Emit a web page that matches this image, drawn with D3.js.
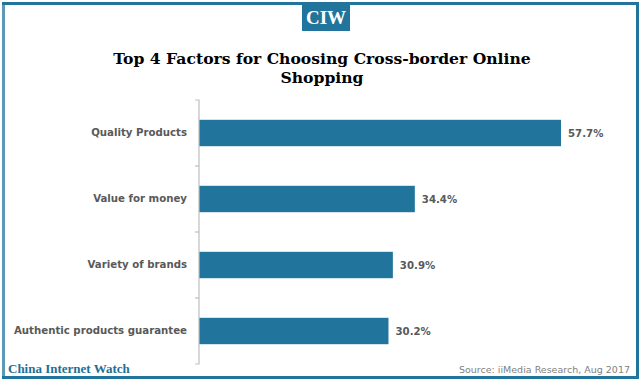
<!DOCTYPE html>
<html><head><meta charset="utf-8">
<script src="https://cdn.jsdelivr.net/npm/d3@7"></script>
<style>html,body{margin:0;padding:0;background:#fff;}svg{display:block;}</style>
</head><body>
<svg id="c" width="640" height="383"></svg>
<script>
const categories = ["Quality Products", "Value for money", "Variety of brands", "Authentic products guarantee"];
const values = [57.7, 34.4, 30.9, 30.2];
const valueLabels = ["57.7%", "34.4%", "30.9%", "30.2%"];
const title = ["Top 4 Factors for Choosing Cross-border Online", "Shopping"];

const svg = d3.select("#c");
const blue = "#21749b";

// frame
svg.append("rect").attr("x", 3.5).attr("y", 3.5).attr("width", 634).attr("height", 374)
  .attr("fill", "none").attr("stroke", blue).attr("stroke-width", 3);
svg.append("line").attr("x1", 3.5).attr("x2", 3.5).attr("y1", 5).attr("y2", 376)
  .attr("stroke", "#5b9ab8").attr("stroke-width", 3);

// CIW badge
svg.append("rect").attr("x", 302).attr("y", 2).attr("width", 48).attr("height", 29).attr("fill", blue);
svg.append("text").attr("x", 326).attr("y", 24).attr("text-anchor", "middle")
  .attr("font-family", "Liberation Serif").attr("font-weight", "bold").attr("font-size", 19)
  .attr("fill", "#fff").text("CIW");

// title (two separate lines)
svg.append("g").selectAll("text").data(title).join("text")
  .attr("x", 322).attr("y", (d, i) => 64 + i * 18.5).attr("text-anchor", "middle")
  .attr("font-family", "DejaVu Serif").attr("font-weight", "bold").attr("font-size", 15.6)
  .attr("fill", "#000").text(d => d);

// scales
const x = d3.scaleLinear().domain([0, 57.7]).range([199, 561]);
const y = d3.scaleBand().domain(categories).range([100, 364]).paddingInner(0.6).paddingOuter(0.3);

// bars
svg.append("g").selectAll("rect").data(values).join("rect")
  .attr("x", x(0)).attr("y", (d, i) => y(categories[i]))
  .attr("width", d => x(d) - x(0)).attr("height", y.bandwidth())
  .attr("fill", blue);

// axis
const axis = svg.append("g").attr("transform", `translate(${x(0)},0)`)
  .call(d3.axisLeft(y).tickSize(0).tickPadding(12));
axis.select(".domain").attr("stroke", "#bfbfbf").attr("stroke-width", 1.2)
  .attr("d", `M-4,${y.range()[0]}H0V${y.range()[1]}H-4`);
axis.selectAll(".tick text").attr("font-family", "DejaVu Sans").attr("font-size", 10.2)
  .attr("font-weight", "bold").attr("fill", "#595959");
// boundary ticks
const bounds = categories.map(c => y(c) - y.step() * y.paddingInner() / 2).slice(1);
axis.selectAll("line.bt").data(bounds).join("line").attr("class", "bt")
  .attr("x1", -4).attr("x2", 0).attr("y1", d => d).attr("y2", d => d)
  .attr("stroke", "#bfbfbf").attr("stroke-width", 1.2);

// value labels
svg.append("g").selectAll("text").data(values).join("text")
  .attr("x", d => x(d) + 7).attr("y", (d, i) => y(categories[i]) + y.bandwidth() / 2)
  .attr("dy", "0.35em").attr("font-family", "DejaVu Sans").attr("font-size", 10.2)
  .attr("font-weight", "bold").attr("fill", "#595959")
  .text((d, i) => valueLabels[i]);

// footer
svg.append("text").attr("x", 8).attr("y", 373)
  .attr("font-family", "Liberation Serif").attr("font-weight", "bold").attr("font-size", 13)
  .attr("fill", "#1f6f96").text("China Internet Watch");
svg.append("text").attr("x", 630).attr("y", 373).attr("text-anchor", "end")
  .attr("font-family", "DejaVu Sans").attr("font-size", 9.5)
  .attr("fill", "#7f7f7f").text("Source: iiMedia Research, Aug 2017");
</script>
</body></html>
